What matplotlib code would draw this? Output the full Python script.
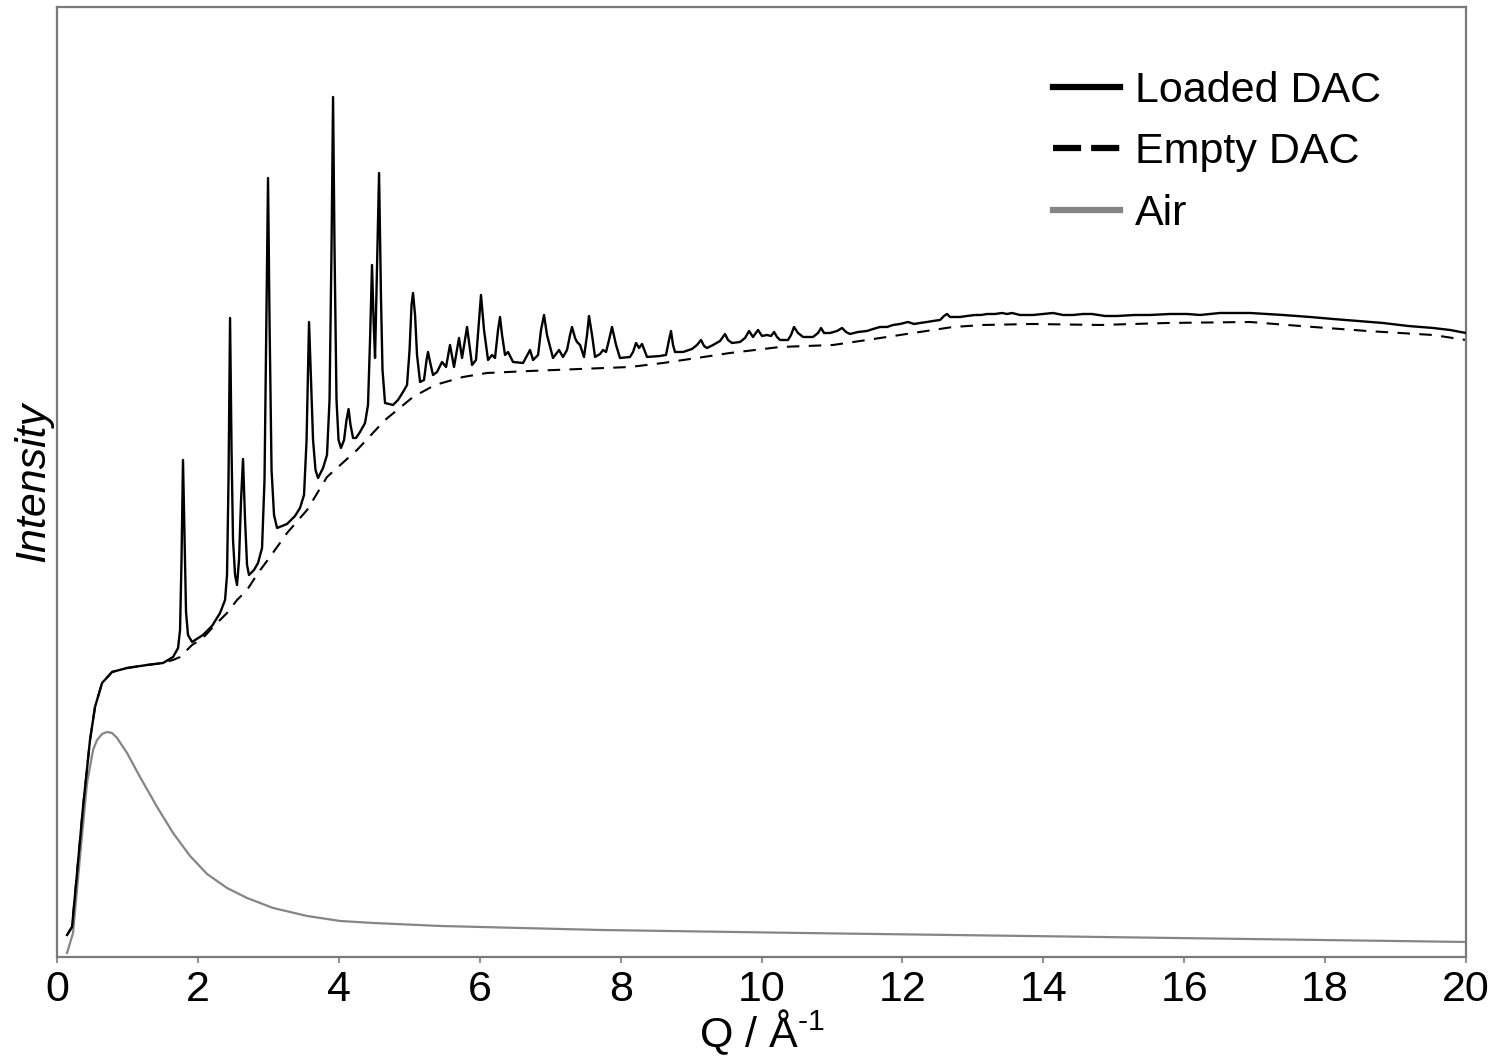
#!/usr/bin/env python3
"""X-ray scattering of a loaded vs empty diamond anvil cell, with the air background."""
import matplotlib

matplotlib.use("Agg")
import matplotlib.pyplot as plt
from matplotlib.lines import Line2D

# Loaded DAC, Q (1/Angstrom) and intensity (arb. units)
Q_LOADED = [
    0.142, 0.213, 0.284, 0.369, 0.468, 0.539, 0.639, 0.781, 0.994, 1.278,
    1.505, 1.647, 1.718, 1.746, 1.767, 1.788, 1.810, 1.831, 1.859, 1.916,
    2.072, 2.200, 2.314, 2.385, 2.413, 2.434, 2.456, 2.477, 2.498, 2.527,
    2.555, 2.583, 2.612, 2.640, 2.669, 2.697, 2.725, 2.796, 2.853, 2.910,
    2.945, 2.974, 2.995, 3.016, 3.045, 3.080, 3.123, 3.265, 3.378, 3.449,
    3.506, 3.542, 3.577, 3.605, 3.634, 3.669, 3.705, 3.776, 3.832, 3.868,
    3.896, 3.918, 3.939, 3.967, 3.996, 4.031, 4.074, 4.109, 4.138, 4.166,
    4.202, 4.244, 4.301, 4.372, 4.414, 4.443, 4.471, 4.493, 4.514, 4.535,
    4.571, 4.599, 4.620, 4.656, 4.769, 4.840, 4.911, 4.968, 5.004, 5.032,
    5.053, 5.082, 5.110, 5.153, 5.209, 5.245, 5.266, 5.295, 5.337, 5.394,
    5.465, 5.522, 5.578, 5.635, 5.706, 5.749, 5.820, 5.891, 5.947, 5.990,
    6.018, 6.061, 6.118, 6.175, 6.217, 6.260, 6.288, 6.317, 6.359, 6.402,
    6.473, 6.615, 6.714, 6.757, 6.828, 6.870, 6.913, 6.955, 6.984, 7.040,
    7.126, 7.182, 7.239, 7.282, 7.310, 7.353, 7.381, 7.424, 7.480, 7.523,
    7.551, 7.594, 7.637, 7.708, 7.750, 7.793, 7.835, 7.878, 7.935, 7.991,
    8.133, 8.176, 8.219, 8.261, 8.304, 8.375, 8.559, 8.644, 8.687, 8.715,
    8.744, 8.772, 8.886, 9.013, 9.084, 9.141, 9.184, 9.226, 9.312, 9.411,
    9.482, 9.524, 9.581, 9.695, 9.766, 9.823, 9.879, 9.950, 10.007, 10.078,
    10.135, 10.178, 10.220, 10.263, 10.376, 10.419, 10.461, 10.518, 10.589, 10.731,
    10.802, 10.845, 10.887, 10.972, 11.072, 11.143, 11.199, 11.256, 11.370, 11.498,
    11.583, 11.682, 11.781, 11.867, 11.966, 12.079, 12.165, 12.250, 12.349, 12.434,
    12.534, 12.590, 12.633, 12.676, 12.718, 12.818, 12.917, 13.030, 13.116, 13.201,
    13.314, 13.414, 13.485, 13.556, 13.669, 13.854, 13.996, 14.138, 14.280, 14.422,
    14.564, 14.691, 14.876, 15.046, 15.302, 15.515, 15.799, 16.040, 16.224, 16.508,
    16.934, 17.402, 17.786, 18.112, 18.467, 18.822, 19.177, 19.532, 19.773, 20.000,
]
I_LOADED = [
    22, 30, 84, 150, 217, 250, 274, 285, 289, 292,
    294, 300, 309, 327, 397, 497, 417, 345, 322, 315,
    322, 331, 344, 357, 382, 477, 639, 507, 417, 382,
    372, 397, 457, 498, 437, 392, 382, 387, 394, 409,
    477, 657, 779, 637, 487, 442, 429, 433, 441, 449,
    462, 517, 635, 577, 517, 487, 479, 489, 502, 557,
    707, 860, 707, 557, 517, 509, 517, 537, 548, 532,
    519, 519, 525, 534, 552, 617, 692, 637, 599, 667,
    784, 657, 587, 554, 552, 557, 565, 572, 607, 652,
    664, 642, 602, 575, 577, 597, 605, 595, 582, 585,
    595, 590, 612, 590, 619, 599, 630, 592, 597, 637,
    662, 627, 597, 602, 599, 627, 640, 622, 602, 605,
    595, 594, 607, 597, 602, 627, 642, 622, 614, 599,
    607, 600, 607, 622, 630, 619, 615, 612, 600, 622,
    641, 622, 600, 603, 607, 605, 617, 630, 612, 599,
    600, 605, 614, 609, 613, 600, 601, 602, 617, 626,
    612, 605, 605, 608, 612, 617, 611, 609, 612, 616,
    623, 617, 614, 615, 619, 626, 620, 627, 621, 622,
    621, 625, 620, 617, 617, 622, 630, 624, 620, 620,
    624, 629, 624, 624, 626, 629, 625, 623, 625, 626,
    628, 630, 630, 632, 633, 635, 633, 634, 635, 636,
    637, 641, 643, 640, 640, 640, 641, 642, 642, 643,
    643, 644, 643, 644, 642, 642, 643, 644, 642, 642,
    643, 643, 641, 641, 642, 642, 643, 643, 642, 644,
    644, 642, 640, 638, 636, 634, 631, 629, 627, 624,
]

# Empty DAC
Q_EMPTY = [
    0.142, 0.213, 0.284, 0.369, 0.468, 0.539, 0.639, 0.781, 0.994, 1.278,
    1.505, 1.647, 1.746, 1.916, 2.072, 2.214, 2.413, 2.555, 2.697, 2.853,
    3.023, 3.265, 3.549, 3.832, 4.258, 4.656, 5.053, 5.365, 5.763, 6.104,
    6.714, 7.424, 8.133, 8.602, 9.084, 9.553, 10.263, 11.015, 11.498, 11.966,
    12.434, 12.718, 13.144, 13.854, 14.805, 15.756, 16.934, 17.644, 18.595, 19.532,
    20.000,
]
I_EMPTY = [
    22, 30, 84, 150, 217, 250, 274, 285, 289, 292,
    294, 297, 300, 312, 319, 330, 344, 357, 367, 384,
    400, 424, 447, 480, 507, 537, 560, 572, 580, 584,
    586, 588, 590, 594, 599, 604, 610, 612, 617, 622,
    627, 630, 632, 633, 632, 634, 635, 631, 626, 622,
    617,
]

# Air scattering
Q_AIR = [
    0.142, 0.227, 0.326, 0.426, 0.511, 0.568, 0.639, 0.710, 0.781, 0.852,
    0.994, 1.178, 1.420, 1.647, 1.888, 2.129, 2.413, 2.697, 3.066, 3.549,
    4.017, 4.485, 5.436, 7.708, 10.546, 14.805, 20.000,
]
I_AIR = [
    4, 24, 100, 174, 207, 217, 223, 225, 224, 219,
    204, 180, 150, 124, 101, 83, 69, 59, 49, 41,
    36, 34, 31, 27, 24, 20, 15,
]

LABELS = ["Loaded DAC", "Empty DAC", "Air"]
X_TICKS = [0, 2, 4, 6, 8, 10, 12, 14, 16, 18, 20]

FRAME = "#7a7a7a"
AIR_C = "#858585"
FS = 31


def main():
    plt.rcParams["font.family"] = ["Liberation Sans", "DejaVu Sans"]
    plt.rcParams["mathtext.fontset"] = "custom"
    plt.rcParams["mathtext.rm"] = "Liberation Sans"

    fig = plt.figure(figsize=(14.97, 10.60), dpi=100)
    ax = fig.add_axes([0.0381, 0.0972, 0.9412, 0.8962])

    ax.plot(Q_LOADED, I_LOADED, color="black", lw=1.7, solid_joinstyle="round", zorder=3)
    ax.plot(Q_EMPTY, I_EMPTY, color="black", lw=1.5, dashes=(6, 4.5), zorder=2)
    ax.plot(Q_AIR, I_AIR, color=AIR_C, lw=1.6, zorder=2)

    ax.set_xlim(0, 20)
    ax.set_ylim(0, 950)
    ax.set_xticks(X_TICKS)
    ax.set_yticks([])
    for s in ax.spines.values():
        s.set_color(FRAME)
        s.set_linewidth(1.6)
    ax.tick_params(axis="x", direction="out", length=4.5, width=1.2, color=FRAME,
                   labelsize=FS, pad=5)

    ax.set_xlabel(r"Q / Å$^{\text{-}1}$", fontsize=FS, labelpad=-2)
    ax.set_ylabel("Intensity", fontsize=FS, style="italic", labelpad=3)

    handles = [Line2D([], [], color="black", lw=4.5),
               Line2D([], [], color="black", lw=4.5, dashes=(4.5, 1.6)),
               Line2D([], [], color=AIR_C, lw=4.5)]
    ax.legend(handles, LABELS, loc="upper left", bbox_to_anchor=(0.707, 0.933),
              frameon=False, fontsize=FS, handlelength=1.55, handletextpad=0.35,
              labelspacing=0.5, borderaxespad=0, borderpad=0)

    fig.savefig("out.png", dpi=100)


if __name__ == "__main__":
    main()
